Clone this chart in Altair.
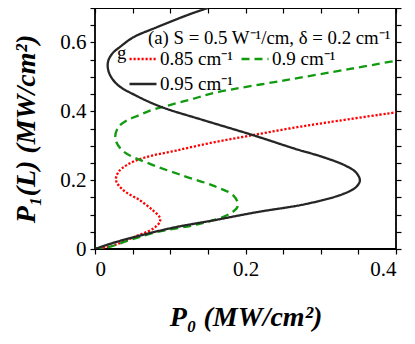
import altair as alt
import pandas as pd

# ---- data (P1 = output, P0 = input), ordered along each curve ----
labels = ["0.85 cm⁻¹", "0.9 cm⁻¹", "0.95 cm⁻¹"]

p1_085 = [0, 0.010, 0.034, 0.059, 0.078, 0.092, 0.112, 0.141, 0.170, 0.199, 0.223, 0.245,
          0.265, 0.286, 0.310, 0.330, 0.350, 0.368, 0.397]
p0_085 = [0, 0.024, 0.051, 0.077, 0.086, 0.086, 0.077, 0.060, 0.038, 0.028, 0.031, 0.043,
          0.065, 0.108, 0.158, 0.208, 0.258, 0.310, 0.400]

p1_090 = [0, 0.007, 0.025, 0.049, 0.073, 0.102, 0.126, 0.155, 0.184, 0.213, 0.250, 0.283,
          0.320, 0.354, 0.373, 0.388, 0.402, 0.412, 0.433, 0.455, 0.489, 0.523, 0.547]
p0_090 = [0, 0.020, 0.045, 0.082, 0.139, 0.179, 0.190, 0.184, 0.157, 0.117, 0.070, 0.038,
          0.027, 0.031, 0.042, 0.058, 0.073, 0.089, 0.125, 0.162, 0.250, 0.339, 0.400]

p1_095 = [0, 0.015, 0.034, 0.062, 0.083, 0.107, 0.131, 0.160, 0.180, 0.199, 0.222, 0.243,
          0.267, 0.291, 0.332, 0.373, 0.412, 0.445, 0.477, 0.510, 0.540, 0.565, 0.590,
          0.615, 0.644, 0.682, 0.700]
p0_095 = [0, 0.020, 0.051, 0.104, 0.157, 0.215, 0.281, 0.330, 0.347, 0.352, 0.347, 0.332,
          0.303, 0.266, 0.208, 0.146, 0.089, 0.055, 0.030, 0.019, 0.017, 0.022, 0.035,
          0.051, 0.082, 0.126, 0.150]

x_ticks = [round(i * 0.05, 2) for i in range(9)]
y_ticks = [round(i * 0.05, 2) for i in range(15)]

annotation = "(a) S = 0.5 W⁻¹/cm,  δ = 0.2 cm⁻¹"
stray = "g"

rows = []
for lab, ys, xs in [(labels[0], p1_085, p0_085), (labels[1], p1_090, p0_090), (labels[2], p1_095, p0_095)]:
    for i, (yv, xv) in enumerate(zip(ys, xs)):
        rows.append({"label": lab, "P1": yv, "P0": xv, "idx": i})
df = pd.DataFrame(rows)

FONT = "Liberation Serif"
xscale = alt.Scale(domain=[0, 0.4], nice=False, zero=False)
yscale = alt.Scale(domain=[0, 0.7], nice=False, zero=False)

label_x = "abs(datum.value*5 - round(datum.value*5)) < 0.001 ? format(datum.value, '') : ''"

legend = alt.Legend(
    title=None, orient="none", legendX=33, legendY=36, columns=2, direction="horizontal",
    symbolType="stroke", symbolSize=729, symbolStrokeWidth=2.3, labelFontSize=19,
    labelFont=FONT, labelColor="black", labelOffset=2, columnPadding=3, rowPadding=-2,
    padding=0, gridAlign="each",
)

colors = alt.Scale(domain=labels, range=["#ff0000", "#109a10", "#262626"])
dashes = alt.Scale(domain=labels, range=[[2.2, 1.8], [8, 5], [1, 0]])

lines = alt.Chart(df).mark_line(strokeWidth=2.3, interpolate="catmull-rom", clip=True).encode(
    x=alt.X("P0:Q", scale=xscale, axis=alt.Axis(
        orient="bottom", values=x_ticks, labelExpr=label_x, title="P₀ (MW/cm²)",
        titleFontStyle="italic", titleFontWeight="bold", titleFontSize=28, titlePadding=24,
        tickSize=5, labelPadding=4)),
    y=alt.Y("P1:Q", scale=yscale, axis=alt.Axis(
        orient="left", values=y_ticks, labelExpr=label_x, title="P₁(L) (MW/cm²)",
        titleFontStyle="italic", titleFontWeight="bold", titleFontSize=28, titlePadding=19,
        tickSize=5, labelPadding=4)),
    color=alt.Color("label:N", scale=colors, legend=legend),
    strokeDash=alt.StrokeDash("label:N", scale=dashes, legend=legend),
    order="idx:Q",
)

mirror = alt.Chart(df).mark_line(opacity=0).encode(
    x=alt.X("P0:Q", scale=xscale, axis=alt.Axis(
        orient="top", values=x_ticks, labels=False, title=None, tickSize=5, offset=-5)),
    y=alt.Y("P1:Q", scale=yscale, axis=alt.Axis(
        orient="right", values=y_ticks, labels=False, title=None, tickSize=5)),
    detail="label:N",
    order="idx:Q",
)

ann = alt.Chart(pd.DataFrame({"t": [annotation]})).mark_text(
    align="left", baseline="alphabetic", fontSize=18.8, font=FONT, color="black"
).encode(text="t:N", x=alt.value(53), y=alt.value(36))

g = alt.Chart(pd.DataFrame({"t": [stray]})).mark_text(
    align="left", baseline="alphabetic", fontSize=18.8, font=FONT, color="black"
).encode(text="t:N", x=alt.value(22), y=alt.value(51))

chart = alt.layer(lines, mirror, ann, g).resolve_axis(x="independent", y="independent").properties(
    width=301, height=241,
    autosize=alt.AutoSizeParams(type="none"),
    padding={"left": 87, "top": 0, "right": 11, "bottom": 88},
).configure(font=FONT).configure_axis(
    domain=False, grid=False, tickColor="black", tickWidth=1.2,
    labelFont=FONT, labelFontSize=21, labelColor="black", titleFont=FONT, titleColor="black",
).configure_view(stroke="black", strokeWidth=1.8)

chart.save("out.html", embed_options={"renderer": "svg", "actions": False})
